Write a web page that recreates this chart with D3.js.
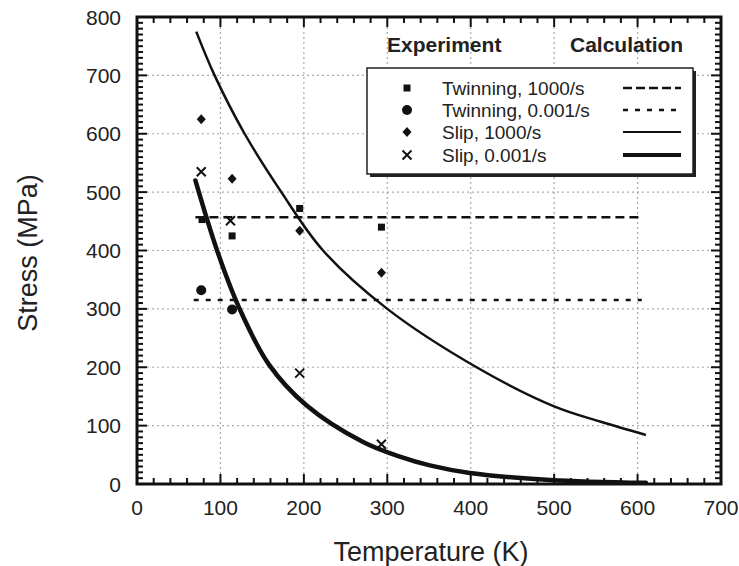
<!DOCTYPE html>
<html>
<head>
<meta charset="utf-8">
<script src="https://cdn.jsdelivr.net/npm/d3@7"></script>
<style>
  body { margin: 0; background: #fff; }
  text { font-family: "Liberation Sans", Arial, sans-serif; fill: #222; }
</style>
</head>
<body>
<div class="container"></div>
<script>
// experiment points [T (K), stress (MPa)]
let twin1000 = [[78, 453], [114, 425], [195, 472], [293, 440]];
let twin0001 = [[77, 332], [114, 299]];
let slip1000 = [[77, 625], [114, 523], [195, 434], [293, 362]];
let slip0001 = [[77, 535], [112, 451], [195, 190], [293, 68]];

// calculation curves
let calcTwin1000 = [[70, 457], [605, 457]];
let calcTwin0001 = [[68, 315], [605, 315]];
let calcSlip1000 = [[71, 775], [93, 700], [129, 600], [173, 500], [223, 400], [300, 300],
  [407, 200], [500, 133], [555, 107], [610, 84]];
let calcSlip0001 = [[70, 520], [96, 400], [123, 300], [158, 205], [203, 135], [271, 72],
  [315, 47], [351, 32], [399, 19], [495, 7], [610, 2]];

let xTicks = [0, 100, 200, 300, 400, 500, 600, 700];
let yTicks = [0, 100, 200, 300, 400, 500, 600, 700, 800];
let legendLabels = ['Twinning, 1000/s', 'Twinning, 0.001/s', 'Slip, 1000/s', 'Slip, 0.001/s'];

let W = 739, H = 566;
let margin = { top: 17, right: 18, bottom: 82, left: 137 };

let svg = d3.select('.container').append('svg')
  .attr('width', W).attr('height', H);
svg.append('rect').attr('width', W).attr('height', H).attr('fill', '#fff');

let xScale = d3.scaleLinear().domain([0, 700]).range([margin.left, W - margin.right]);
let yScale = d3.scaleLinear().domain([0, 800]).range([H - margin.bottom, margin.top]);
let x0 = xScale(0), x1 = xScale(700), y0 = yScale(0), y1 = yScale(800);

// grid
let grid = svg.append('g').attr('stroke', '#aaa').attr('stroke-width', 1.2)
  .attr('stroke-dasharray', '2,3');
xTicks.slice(1, -1).forEach((t) => {
  grid.append('line').attr('x1', xScale(t)).attr('x2', xScale(t)).attr('y1', y0).attr('y2', y1);
});
yTicks.slice(1, -1).forEach((t) => {
  grid.append('line').attr('x1', x0).attr('x2', x1).attr('y1', yScale(t)).attr('y2', yScale(t));
});

// ticks (inward, all four sides)
let xMinor = d3.range(0, 701, 20);
let yMinor = d3.range(0, 801, 10);
let tickG = svg.append('g').attr('stroke', '#111').attr('stroke-width', 2);
xMinor.forEach((t) => {
  let len = t % 100 === 0 ? 10 : 6;
  tickG.append('line').attr('x1', xScale(t)).attr('x2', xScale(t)).attr('y1', y0).attr('y2', y0 - len);
  tickG.append('line').attr('x1', xScale(t)).attr('x2', xScale(t)).attr('y1', y1).attr('y2', y1 + len);
});
yMinor.forEach((t) => {
  let len = t % 100 === 0 ? 10 : 6;
  tickG.append('line').attr('x1', x0).attr('x2', x0 + len).attr('y1', yScale(t)).attr('y2', yScale(t));
  tickG.append('line').attr('x1', x1).attr('x2', x1 - len).attr('y1', yScale(t)).attr('y2', yScale(t));
});

// frame
svg.append('rect').attr('x', x0).attr('y', y1).attr('width', x1 - x0).attr('height', y0 - y1)
  .attr('fill', 'none').attr('stroke', '#111').attr('stroke-width', 3);

// tick labels
svg.append('g').selectAll('text').data(xTicks).enter().append('text')
  .attr('x', (d) => xScale(d)).attr('y', 515)
  .attr('text-anchor', 'middle').style('font-size', '21px').text((d) => d);
svg.append('g').selectAll('text').data(yTicks).enter().append('text')
  .attr('x', 121).attr('y', (d) => yScale(d) + 7.5)
  .attr('text-anchor', 'end').style('font-size', '21px').text((d) => d);

// axis titles
svg.append('text').attr('x', 431).attr('y', 561).attr('text-anchor', 'middle')
  .style('font-size', '27px').text('Temperature (K)');
svg.append('text').attr('transform', 'translate(37,253) rotate(-90)').attr('text-anchor', 'middle')
  .style('font-size', '27px').text('Stress (MPa)');

// calculation lines
let line = d3.line().x((d) => xScale(d[0])).y((d) => yScale(d[1])).curve(d3.curveCatmullRom.alpha(0.5));
svg.append('path').attr('d', line(calcTwin1000)).attr('fill', 'none').attr('stroke', '#111')
  .attr('stroke-width', 2.5).attr('stroke-dasharray', '9,5');
svg.append('path').attr('d', line(calcTwin0001)).attr('fill', 'none').attr('stroke', '#111')
  .attr('stroke-width', 2.5).attr('stroke-dasharray', '5,7');
svg.append('path').attr('d', line(calcSlip1000)).attr('fill', 'none').attr('stroke', '#111')
  .attr('stroke-width', 2.5);
svg.append('path').attr('d', line(calcSlip0001)).attr('fill', 'none').attr('stroke', '#111')
  .attr('stroke-width', 4.5).attr('stroke-linecap', 'round');

// markers
function drawMarker(g, type, cx, cy) {
  if (type === 0) {
    g.append('rect').attr('x', cx - 3.5).attr('y', cy - 3.5).attr('width', 7).attr('height', 7).attr('fill', '#111');
  } else if (type === 1) {
    g.append('circle').attr('cx', cx).attr('cy', cy).attr('r', 5).attr('fill', '#111');
  } else if (type === 2) {
    g.append('path').attr('d', `M${cx},${cy - 5}L${cx + 4.5},${cy}L${cx},${cy + 5}L${cx - 4.5},${cy}Z`).attr('fill', '#111');
  } else {
    g.append('path').attr('d', `M${cx - 4.5},${cy - 4.5}L${cx + 4.5},${cy + 4.5}M${cx - 4.5},${cy + 4.5}L${cx + 4.5},${cy - 4.5}`)
      .attr('stroke', '#111').attr('stroke-width', 2);
  }
}
let pts = svg.append('g');
[twin1000, twin0001, slip1000, slip0001].forEach((series, i) => {
  series.forEach((d) => drawMarker(pts, i, xScale(d[0]), yScale(d[1])));
});

// legend
svg.append('text').attr('x', 387).attr('y', 52).style('font-size', '21px').style('font-weight', 'bold').text('Experiment');
svg.append('text').attr('x', 570).attr('y', 52).style('font-size', '21px').style('font-weight', 'bold').text('Calculation');
let lg = svg.append('g');
lg.append('rect').attr('x', 370).attr('y', 71).attr('width', 326).attr('height', 106).attr('fill', '#222');
lg.append('rect').attr('x', 367).attr('y', 68).attr('width', 326).attr('height', 106)
  .attr('fill', '#fff').attr('stroke', '#222').attr('stroke-width', 1.5);
let rowY = [88, 110, 132, 155];
let dashes = ['9,4', '5,7', null, null];
let widths = [2.5, 2.5, 2, 4];
legendLabels.forEach((label, i) => {
  drawMarker(lg, i, 407, rowY[i]);
  lg.append('text').attr('x', 442).attr('y', rowY[i] + 7).style('font-size', '19px').text(label);
  let l = lg.append('line').attr('x1', 623).attr('x2', 681).attr('y1', rowY[i]).attr('y2', rowY[i])
    .attr('stroke', '#111').attr('stroke-width', widths[i]);
  if (dashes[i]) l.attr('stroke-dasharray', dashes[i]);
});
</script>
</body>
</html>
